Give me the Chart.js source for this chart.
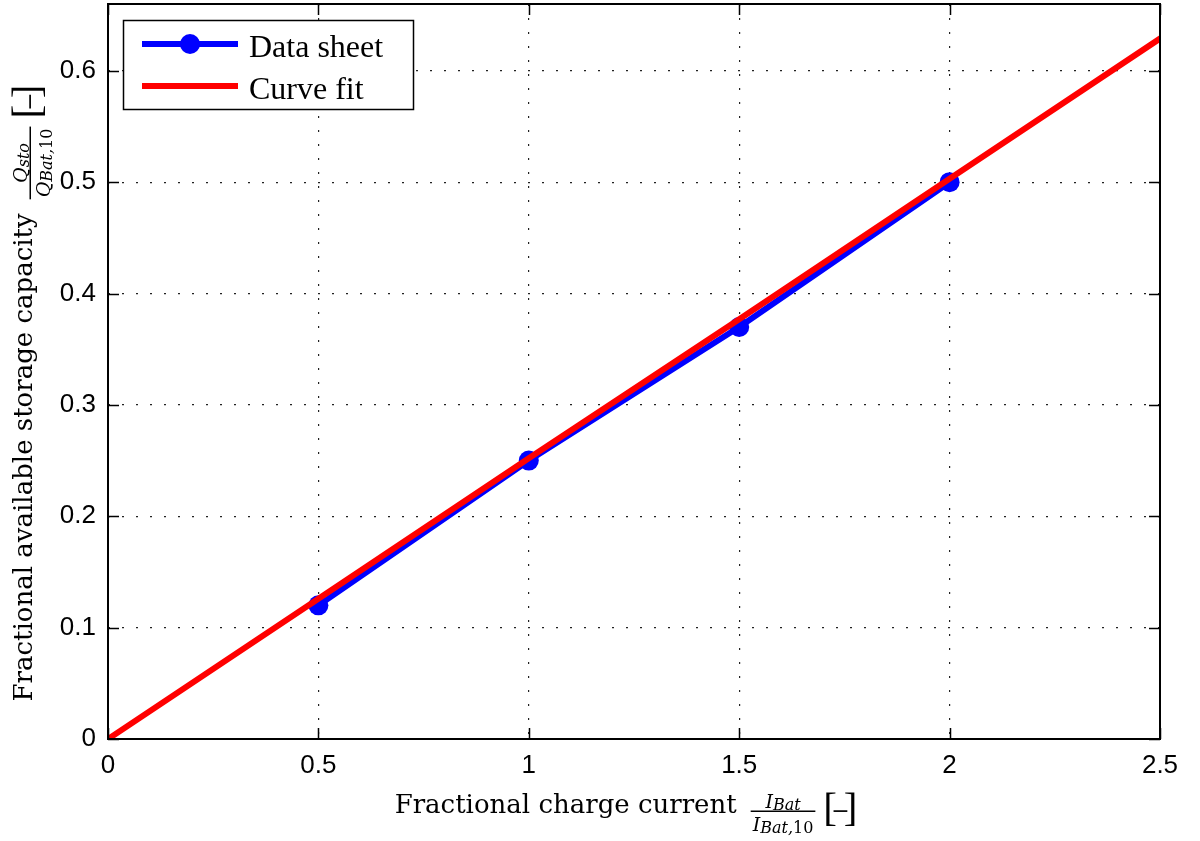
<!DOCTYPE html>
<html>
<head>
<meta charset="utf-8">
<title>Fractional available storage capacity</title>
<script src="https://cdn.jsdelivr.net/npm/chart.js@4.4.1/dist/chart.umd.min.js"></script>
<style>
  html, body { margin: 0; padding: 0; background: #fff; }
  #wrap { width: 1200px; height: 841px; }
</style>
</head>
<body>
<div id="wrap"><canvas id="chart" width="1200" height="841"></canvas></div>
<script>
// --- DATA ---
const sheetX = [0.5, 1, 1.5, 2];
const sheetY = [0.12, 0.25, 0.37, 0.50];
const fitX = [0, 0.5, 1, 1.5, 2, 2.5];
const fitY = [0, 0.126, 0.252, 0.377, 0.503, 0.629];
const xTicks = [0, 0.5, 1, 1.5, 2, 2.5];
const yTicks = [0, 0.1, 0.2, 0.3, 0.4, 0.5, 0.6];
const seriesNames = ['Data sheet', 'Curve fit'];

const SERIF = '"DejaVu Serif", serif';
const TIMES = '"Liberation Serif", serif';

// draws a run of text pieces starting at x, returns the end x
function drawRuns(ctx, runs, x, y) {
    runs.forEach(r => {
        ctx.font = r.font;
        ctx.fillText(r.text, x, y + (r.dy || 0));
        x += ctx.measureText(r.text).width;
    });
    return x;
}
function runsWidth(ctx, runs) {
    let w = 0;
    runs.forEach(r => { ctx.font = r.font; w += ctx.measureText(r.text).width; });
    return w;
}

// label: main text + fraction + [−], laid out along local x, baseline at y=0
function drawMathLabel(ctx, main, num, den) {
    const mainFont = '26px ' + SERIF;
    ctx.font = mainFont;
    const mainW = ctx.measureText(main).width;
    const numW = runsWidth(ctx, num);
    const denW = runsWidth(ctx, den);
    const barW = Math.max(numW, denW) + 4;
    const brW = 30;
    const total = mainW + 14 + barW + 10 + brW;
    let x = -total / 2;

    ctx.fillStyle = '#000';
    ctx.textAlign = 'left';
    ctx.textBaseline = 'alphabetic';
    ctx.font = mainFont;
    ctx.fillText(main, x, 0);
    x += mainW + 14;

    // fraction
    drawRuns(ctx, num, x + (barW - numW) / 2, -5);
    drawRuns(ctx, den, x + (barW - denW) / 2, 18);
    ctx.fillRect(x, -2.5, barW, 1.5);
    x += barW + 10;

    // [−]
    ctx.font = '41px ' + TIMES;
    ctx.fillText('[', x - 2, 8);
    ctx.textAlign = 'right';
    ctx.fillText(']', x + brW + 2, 8);
    ctx.textAlign = 'center';
    ctx.font = '22px ' + SERIF;
    ctx.fillText('\u2212', x + brW / 2, 5);
    ctx.textAlign = 'left';
}

const mathIt = s => 'italic ' + s + 'px ' + SERIF;
const mathUp = s => s + 'px ' + SERIF;

// frame, inward ticks and legend (over the lines)
const framePlugin = {
    id: 'frame',
    afterDatasetsDraw(chart) {
        const ctx = chart.ctx;
        const a = chart.chartArea;
        const xs = chart.scales.x, ys = chart.scales.y;
        ctx.save();
        ctx.strokeStyle = '#000';
        ctx.lineWidth = 1.5;
        const tl = 11;
        ctx.beginPath();
        xTicks.forEach(v => {
            const px = Math.round(xs.getPixelForValue(v)) + 0.5;
            ctx.moveTo(px, a.bottom); ctx.lineTo(px, a.bottom - tl);
            ctx.moveTo(px, a.top); ctx.lineTo(px, a.top + tl);
        });
        yTicks.forEach(v => {
            const py = Math.round(ys.getPixelForValue(v)) + 0.5;
            ctx.moveTo(a.left, py); ctx.lineTo(a.left + tl, py);
            ctx.moveTo(a.right, py); ctx.lineTo(a.right - tl, py);
        });
        ctx.stroke();
        ctx.lineWidth = 2;
        ctx.strokeRect(a.left, a.top, a.right - a.left, a.bottom - a.top);

        // legend box
        const ds = chart.data.datasets;
        ctx.fillStyle = '#fff';
        ctx.fillRect(123, 20, 291, 90);
        ctx.lineWidth = 1.5;
        ctx.strokeRect(123.5, 20.5, 290, 89);
        const rows = [44, 86];
        ds.forEach((d, i) => {
            const y = rows[i];
            ctx.strokeStyle = d.borderColor;
            ctx.lineWidth = d.borderWidth;
            ctx.beginPath();
            ctx.moveTo(142, y); ctx.lineTo(238, y);
            ctx.stroke();
            if (d.pointRadius > 0) {
                ctx.fillStyle = d.backgroundColor;
                ctx.beginPath();
                ctx.arc(190, y, d.pointRadius, 0, Math.PI * 2);
                ctx.fill();
            }
            ctx.fillStyle = '#000';
            ctx.font = '32px ' + TIMES;
            ctx.textAlign = 'left';
            ctx.textBaseline = 'alphabetic';
            ctx.fillText(d.label, 249, y + 13);
        });
        ctx.restore();
    },
    afterDraw(chart) {
        const ctx = chart.ctx;
        // x title
        ctx.save();
        ctx.translate(625, 813);
        drawMathLabel(ctx, 'Fractional charge current',
            [{ text: 'I', font: mathIt(19) }, { text: 'Bat', font: mathIt(16), dy: 2 }],
            [{ text: 'I', font: mathIt(19) }, { text: 'Bat,', font: mathIt(16), dy: 2 }, { text: '10', font: mathUp(16), dy: 2 }]);
        ctx.restore();
        // y title
        ctx.save();
        ctx.translate(32, 394);
        ctx.rotate(-Math.PI / 2);
        drawMathLabel(ctx, 'Fractional available storage capacity',
            [{ text: 'Q', font: mathIt(19) }, { text: 'sto', font: mathIt(16), dy: 2 }],
            [{ text: 'Q', font: mathIt(19) }, { text: 'Bat,', font: mathIt(16), dy: 2 }, { text: '10', font: mathUp(16), dy: 2 }]);
        ctx.restore();
    }
};

const tickFont = { family: '"Liberation Sans", Arial, sans-serif', size: 26 };

const ctx = document.getElementById('chart').getContext('2d');
const chart = new Chart(ctx, {
    type: 'scatter',
    data: {
        datasets: [
            {
                label: seriesNames[0],
                data: sheetX.map((x, i) => ({ x: x, y: sheetY[i] })),
                showLine: true,
                borderColor: '#0000ff',
                backgroundColor: '#0000ff',
                borderWidth: 6,
                pointRadius: 10,
                pointHoverRadius: 10,
                pointBorderWidth: 0,
                pointStyle: 'circle',
                borderCapStyle: 'round',
                borderJoinStyle: 'round',
                tension: 0,
                order: 2
            },
            {
                label: seriesNames[1],
                data: fitX.map((x, i) => ({ x: x, y: fitY[i] })),
                showLine: true,
                borderColor: '#ff0000',
                backgroundColor: '#ff0000',
                borderWidth: 6,
                pointRadius: 0,
                pointHoverRadius: 0,
                borderCapStyle: 'round',
                borderJoinStyle: 'round',
                tension: 0,
                order: 1
            }
        ]
    },
    options: {
        responsive: false,
        animation: false,
        devicePixelRatio: 1,
        layout: { padding: { top: 4, right: 40, left: 0, bottom: 0 }, autoPadding: false },
        plugins: { legend: { display: false }, tooltip: { enabled: false } },
        scales: {
            x: {
                type: 'linear', min: 0, max: 2.5,
                afterBuildTicks: s => { s.ticks = xTicks.map(v => ({ value: v })); },
                afterFit: s => { s.height = 102; s.paddingLeft = 0; s.paddingRight = 0; },
                ticks: { font: tickFont, color: '#000', padding: 11, maxRotation: 0, autoSkip: false,
                         callback: v => String(v) },
                grid: { color: '#222', lineWidth: 1.2, drawTicks: false },
                border: { display: false, dash: [2, 12] }
            },
            y: {
                type: 'linear', min: 0, max: 0.66,
                afterBuildTicks: s => { s.ticks = yTicks.map(v => ({ value: v })); },
                afterFit: s => { s.width = 108; s.paddingTop = 0; s.paddingBottom = 0; },
                ticks: { font: tickFont, color: '#000', padding: 12, autoSkip: false,
                         callback: v => String(v) },
                grid: { color: '#222', lineWidth: 1.2, drawTicks: false },
                border: { display: false, dash: [2, 12] }
            }
        }
    },
    plugins: [framePlugin]
});
</script>
</body>
</html>
